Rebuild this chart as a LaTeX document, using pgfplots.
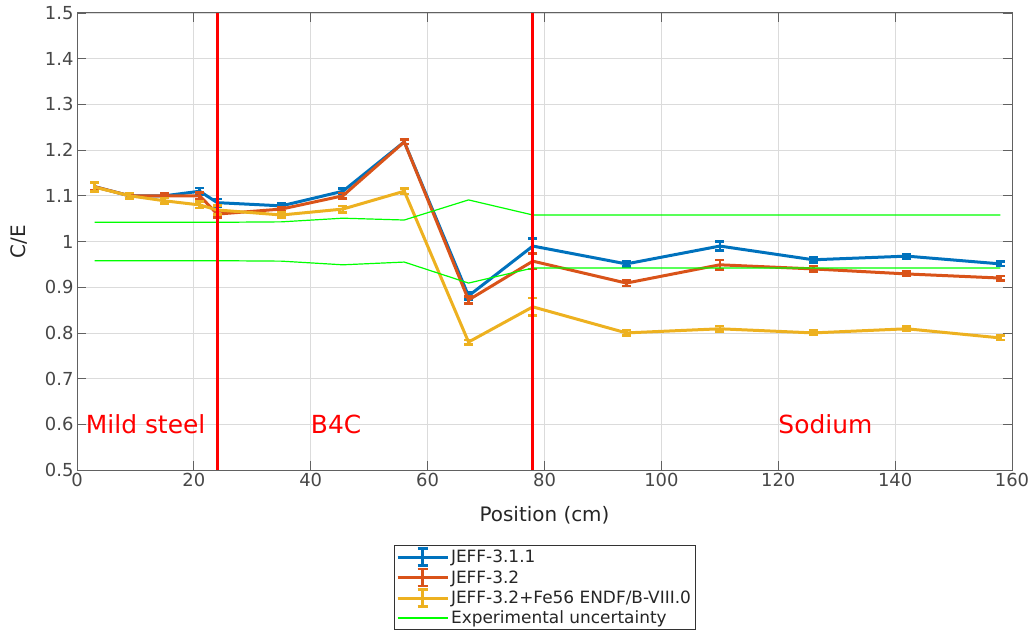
\documentclass[border=0pt]{standalone}
\usepackage{fontspec}
\setmainfont{DejaVu Sans}
\usepackage{pgfplots}
\pgfplotsset{compat=1.18}
\definecolor{mblue}{rgb}{0,0.447,0.741}
\definecolor{morange}{rgb}{0.85,0.325,0.098}
\definecolor{myellow}{rgb}{0.929,0.694,0.125}
\definecolor{axgray}{rgb}{0.38,0.38,0.38}
\definecolor{txtgray}{rgb}{0.15,0.15,0.15}
\begin{document}
\begin{tikzpicture}
\begin{axis}[
  name=ax,
  scale only axis,
  width=935bp, height=457bp,
  xmin=0, xmax=160, ymin=0.5, ymax=1.5,
  xtick={0,20,40,60,80,100,120,140,160},
  ytick={0.5,0.6,0.7,0.8,0.9,1,1.1,1.2,1.3,1.4,1.5},
  yticklabels={0.5,0.6,0.7,0.8,0.9,1,1.1,1.2,1.3,1.4,1.5},
  /pgf/number format/assume math mode=true,
  tick label style={font=\fontsize{18}{20}\selectfont, text=txtgray!85},
  tick align=inside,
  major tick length=9bp,
  tick style={axgray, line width=0.8bp},
  axis line style={axgray, line width=1bp},
  grid=major,
  major grid style={black!14, line width=0.8bp},
  xlabel={Position (cm)},
  ylabel={C/E},
  label style={font=\fontsize{20}{22}\selectfont, text=txtgray},
  xlabel style={at={(axis description cs:0.5,-0.0985)}, anchor=center},
  ylabel style={at={(axis description cs:-0.062,0.5)}, anchor=center},
  legend style={at={(axis description cs:0.5,-0.164)}, anchor=north,
    font=\fontsize{17}{20}\selectfont, draw=black!80, line width=0.8bp,
    inner sep=2bp, row sep=1bp, cells={anchor=west}, text=txtgray},
  legend cell align=left,
  error bars/y dir=both,
  error bars/y explicit,
  error bars/error bar style={line width=2.5bp},
  error bars/error mark options={line width=2.5bp, mark size=4.5bp, rotate=90},
]
% JEFF-3.1.1
\addplot[mblue, line width=3bp, no markers,
  legend image code/.code={
    \draw[mblue,line width=3bp] (0bp,0bp)--(50bp,0bp);
    \draw[mblue,line width=2.5bp] (25bp,-8.5bp)--(25bp,8.5bp) (20bp,-8.5bp)--(30bp,-8.5bp) (20bp,8.5bp)--(30bp,8.5bp);}]
  table[x=x, y=y, y error=e] {
x y e
3 1.120 0.008
9 1.100 0.005
15 1.100 0.005
21 1.110 0.007
24 1.085 0.008
35 1.078 0.005
45.5 1.110 0.006
56 1.218 0.005
67 0.881 0.008
78 0.990 0.017
94 0.951 0.006
110 0.990 0.010
126 0.960 0.006
142 0.968 0.005
158 0.951 0.005
};
\addlegendentry{JEFF-3.1.1}
% JEFF-3.2
\addplot[morange, line width=3bp, no markers,
  legend image code/.code={
    \draw[morange,line width=3bp] (0bp,0bp)--(50bp,0bp);
    \draw[morange,line width=2.5bp] (25bp,-8.5bp)--(25bp,8.5bp) (20bp,-8.5bp)--(30bp,-8.5bp) (20bp,8.5bp)--(30bp,8.5bp);}]
  table[x=x, y=y, y error=e] {
x y e
3 1.120 0.008
9 1.100 0.005
15 1.100 0.005
21 1.100 0.007
24 1.060 0.008
35 1.071 0.005
45.5 1.100 0.006
56 1.218 0.005
67 0.872 0.008
78 0.957 0.017
94 0.909 0.006
110 0.949 0.010
126 0.940 0.006
142 0.929 0.005
158 0.920 0.005
};
\addlegendentry{JEFF-3.2}
% JEFF-3.2 + Fe56
\addplot[myellow, line width=3bp, no markers,
  legend image code/.code={
    \draw[myellow,line width=3bp] (0bp,0bp)--(50bp,0bp);
    \draw[myellow,line width=2.5bp] (25bp,-8.5bp)--(25bp,8.5bp) (20bp,-8.5bp)--(30bp,-8.5bp) (20bp,8.5bp)--(30bp,8.5bp);}]
  table[x=x, y=y, y error=e] {
x y e
3 1.119 0.010
9 1.100 0.006
15 1.089 0.006
21 1.080 0.007
24 1.069 0.010
35 1.058 0.006
45.5 1.071 0.007
56 1.110 0.006
67 0.780 0.005
78 0.857 0.019
94 0.800 0.006
110 0.809 0.006
126 0.800 0.005
142 0.809 0.005
158 0.789 0.005
};
\addlegendentry{JEFF-3.2+Fe56 ENDF/B-VIII.0}
% Experimental uncertainty
\addplot[green, line width=1.2bp, no markers,
  legend image code/.code={\draw[green,line width=1.2bp] (0bp,0bp)--(50bp,0bp);}]
  coordinates {(3,1.042) (9,1.042) (15,1.042) (21,1.042) (24,1.042) (35,1.043) (45.5,1.051) (56,1.047) (67,1.091) (78,1.058) (94,1.058) (110,1.058) (126,1.058) (142,1.058) (158,1.058)};
\addlegendentry{Experimental uncertainty}
\addplot[green, line width=1.2bp, no markers, forget plot]
  coordinates {(3,0.958) (9,0.958) (15,0.958) (21,0.958) (24,0.958) (35,0.957) (45.5,0.949) (56,0.955) (67,0.909) (78,0.942) (94,0.942) (110,0.942) (126,0.942) (142,0.942) (158,0.942)};
% Region boundaries
\addplot[red, line width=3bp, forget plot] coordinates {(24,0.5) (24,1.5)};
\addplot[red, line width=3bp, forget plot] coordinates {(78,0.5) (78,1.5)};
\node[anchor=base west, text=red, font=\fontsize{25}{30}\selectfont, inner sep=0pt] at (axis cs:1.5,0.579) {Mild steel};
\node[anchor=base west, text=red, font=\fontsize{25}{30}\selectfont, inner sep=0pt] at (axis cs:40,0.579) {B4C};
\node[anchor=base west, text=red, font=\fontsize{25}{30}\selectfont, inner sep=0pt] at (axis cs:120,0.579) {Sodium};
\end{axis}
\pgfresetboundingbox
\path ([shift={(-77bp,-163bp)}]ax.south west) rectangle ([shift={(17bp,13bp)}]ax.north east);
\end{tikzpicture}
\end{document}
